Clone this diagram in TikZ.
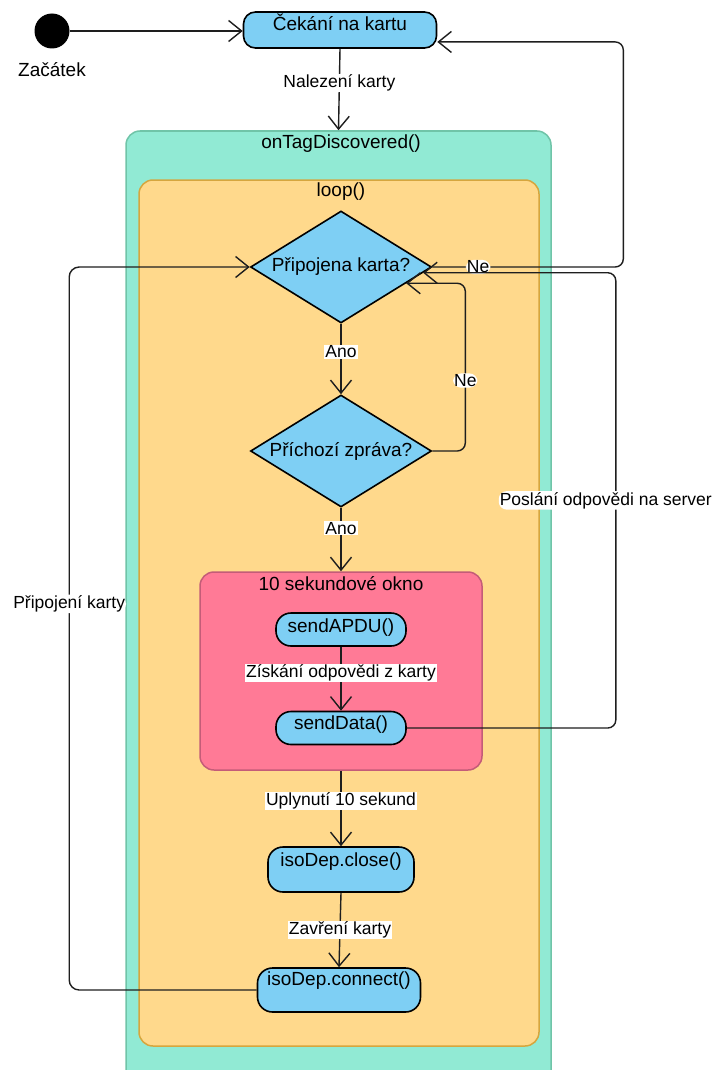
\documentclass[tikz,border=0pt]{standalone}
\usepackage{fontspec}
\setmainfont{Liberation Sans}
\usetikzlibrary{arrows.meta,shapes.geometric}

\definecolor{stateblue}{RGB}{126,207,244}
\definecolor{outerfill}{RGB}{145,234,212}
\definecolor{outerline}{RGB}{112,196,168}
\definecolor{loopfill}{RGB}{255,217,140}
\definecolor{loopline}{RGB}{214,166,62}
\definecolor{winfill}{RGB}{255,122,150}
\definecolor{winline}{RGB}{196,92,120}
\definecolor{edgecol}{RGB}{30,30,30}

\begin{document}
\begin{tikzpicture}[x=1pt,y=-1pt,
  nodefont/.style={font=\fontsize{19}{22}\selectfont},
  lblfont/.style={font=\fontsize{17.5}{20}\selectfont},
  container/.style={inner sep=0pt, line width=1.5pt, rounded corners=14pt},
  statebox/.style={draw=black, line width=1.6pt, fill=stateblue, inner sep=0pt,
    nodefont, text height=14pt},
  decision/.style={diamond, shape aspect=1.6, draw=black, line width=1.6pt, fill=stateblue,
    inner sep=0pt, minimum width=181pt, minimum height=112pt, nodefont},
  flow/.style={draw=edgecol, line width=1.4pt,
    -{Straight Barb[length=13pt,width=21pt]}},
  lbl/.style={fill=white, inner sep=1pt, lblfont, text=black},
  title/.style={inner sep=0pt, nodefont}
]
\clip (0,0) rectangle (713,1070);
\fill[white] (0,0) rectangle (713,1070);

% nested containers
\node[container, draw=outerline, fill=outerfill, minimum width=425pt, minimum height=954pt]
  (outer) at (338.5,608) {};
\node[title] (outertitle) at (341,144) {onTagDiscovered()};
\node[container, draw=loopline, fill=loopfill, minimum width=400pt, minimum height=866pt]
  (loop) at (339,613) {};
\node[title] (looptitle) at (341,192) {loop()};
\node[container, draw=winline, fill=winfill, minimum width=282pt, minimum height=198pt]
  (win) at (341,671) {};
\node[title] (wintitle) at (341,584) {10 sekundové okno};

% initial state
\node[circle, fill=black, minimum size=35pt, inner sep=0pt] (start) at (52,31) {};
\node[title] (startlbl) at (52,70) {Začátek};

% states
\node[statebox, rounded corners=12pt, minimum width=193pt, minimum height=36pt, text depth=12pt]
  (cekani) at (340,30) {Čekání na kartu};
\node[decision] (d1) at (341,267) {Připojena karta?};
\node[decision] (d2) at (341,451) {Příchozí zpráva?};
\node[statebox, rounded corners=15pt, minimum width=130pt, minimum height=33pt, text depth=9pt]
  (apdu) at (341,629.5) {sendAPDU()};
\node[statebox, rounded corners=15pt, minimum width=130pt, minimum height=33pt, text depth=12pt]
  (senddata) at (341,728) {sendData()};
\node[statebox, rounded corners=15pt, minimum width=146pt, minimum height=45pt, text depth=21pt]
  (close) at (341,869.5) {isoDep.close()};
\node[statebox, rounded corners=15pt, minimum width=163pt, minimum height=44pt, text depth=24pt]
  (connect) at (339,990) {isoDep.connect()};

% transitions
\draw[flow] (start.east) -- (start -| cekani.west);
\draw[flow] (cekani.south) -- node[lbl, pos=0.42] {Nalezení karty} (outer.north);
\draw[flow] (d1.south) -- node[lbl, pos=0.4] {Ano} (d2.north);
\draw[flow] (d2.south) -- node[lbl, pos=0.32] {Ano} (win.north);
\draw[flow] (apdu.south) -- node[lbl, pos=0.41] {Získání odpovědi z karty} (senddata.north);
\draw[flow] (win.south) -- node[lbl, pos=0.4] {Uplynutí 10 sekund} (close.north);
\draw[flow] (close.south) -- node[lbl, pos=0.5] {Zavření karty} (connect.north);

\draw[flow, rounded corners=8pt] (d2.east) -- ++(33,0)
  |- node[lbl, pos=0.21] {Ne} (d1.-14);
\draw[flow, rounded corners=8pt] (d1.east) -- node[lbl, pos=0.24] {Ne} ++(191,0)
  |- (cekani.-7);
\draw[flow, rounded corners=8pt] (senddata.east) -- ++(209,0)
  |- node[lbl, pos=0.25, xshift=-10pt] {Poslání odpovědi na server} (d1.-4);
\draw[flow, rounded corners=10pt] (connect.west) -- ++(-187.5,0)
  |- node[lbl, pos=0.267] {Připojení karty} (d1.west);
\end{tikzpicture}
\end{document}
